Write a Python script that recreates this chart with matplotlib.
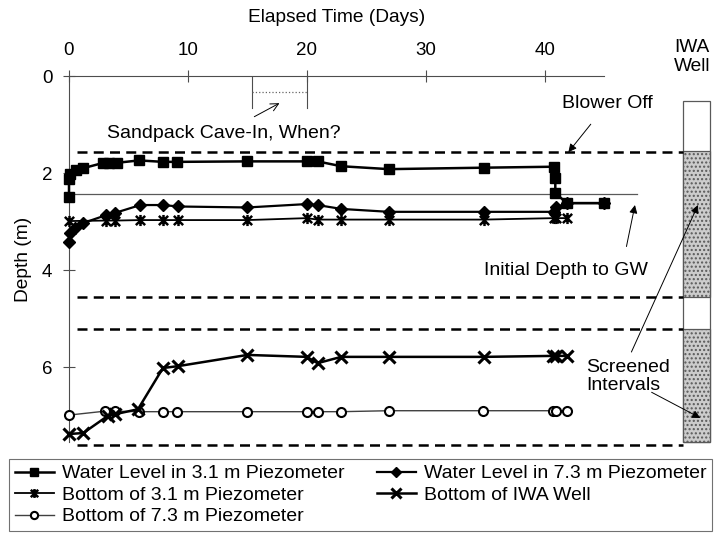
import numpy as np
import matplotlib.pyplot as plt
from matplotlib.path import Path
from matplotlib.patches import Rectangle

plt.rcParams['font.family'] = ['Liberation Sans', 'DejaVu Sans']

# water level in 3.1 m piezometer (squares)
sq_days = [0, 0, 0.1, 0.6, 1.2, 2.9, 3.4, 4.0, 5.9, 7.9, 9.1, 15, 20, 20.9, 22.9, 26.9, 34.9, 40.8, 40.9, 40.9, 41.9, 45]
sq_depth = [2.49, 2.12, 2.02, 1.93, 1.90, 1.79, 1.79, 1.79, 1.74, 1.77, 1.77, 1.76, 1.76, 1.76, 1.86, 1.92, 1.89, 1.87, 2.10, 2.42, 2.62, 2.62]

# water level in 7.3 m piezometer (diamonds)
dia_days = [0, 0.1, 0.5, 1.2, 3.1, 3.9, 6.0, 7.9, 9.2, 15, 20, 20.9, 22.9, 26.9, 34.9, 40.8, 41.0, 41.9, 45]
dia_depth = [3.42, 3.24, 3.13, 3.03, 2.87, 2.82, 2.66, 2.66, 2.69, 2.71, 2.64, 2.66, 2.74, 2.80, 2.80, 2.80, 2.70, 2.62, 2.62]

# bottom of 3.1 m piezometer (asterisks)
ast_days = [0, 3.1, 3.9, 6.0, 7.9, 9.2, 15, 20, 20.9, 22.9, 26.9, 34.9, 40.8, 41.0, 41.9]
ast_depth = [2.99, 2.98, 2.98, 2.97, 2.97, 2.97, 2.97, 2.93, 2.96, 2.96, 2.96, 2.96, 2.93, 2.93, 2.93]

# bottom of IWA well (x)
x_days = [0, 1.2, 3.3, 3.9, 5.8, 7.9, 9.2, 15, 20, 20.9, 22.9, 26.9, 34.9, 40.7, 41.0, 41.9]
x_depth = [7.38, 7.36, 7.00, 6.97, 6.87, 6.02, 5.98, 5.75, 5.79, 5.92, 5.79, 5.79, 5.79, 5.77, 5.77, 5.77]

# bottom of 7.3 m piezometer (circles)
o_days = [0, 3.0, 3.9, 5.9, 7.9, 9.1, 15, 20, 20.9, 22.9, 26.9, 34.8, 40.7, 41.0, 41.9]
o_depth = [6.99, 6.91, 6.91, 6.92, 6.92, 6.92, 6.92, 6.92, 6.92, 6.92, 6.90, 6.90, 6.90, 6.90, 6.90]

dashed_depths = [1.56, 4.56, 5.22, 7.60]
gw_depth = 2.43
screens = [(1.54, 4.56), (5.22, 7.55)]
well_top, well_bottom = 0.52, 7.55

fig = plt.figure(figsize=(7.15, 5.46), dpi=100)
ax = fig.add_axes([0.0965, 0.1767, 0.898, 0.6841])
ax.set_xlim(0, 54)
ax.set_ylim(7.7, 0)

# asterisk marker like excel (x with vertical bar)
ast = Path([(-1, -1), (1, 1), (-1, 1), (1, -1), (0, -1.2), (0, 1.2)],
           [Path.MOVETO, Path.LINETO, Path.MOVETO, Path.LINETO, Path.MOVETO, Path.LINETO])

# reference lines
for d in dashed_depths:
    ax.plot([0.7, 51.6], [d, d], color='black', lw=1.8, ls=(0, (4, 2.5)), clip_on=False)
ax.plot([0, 47.8], [gw_depth, gw_depth], color='0.35', lw=0.9)

# well column
ax.add_patch(Rectangle((51.6, well_top), 2.35, well_bottom - well_top, facecolor='white',
                       edgecolor='0.35', lw=0.9, clip_on=False))
for s0, s1 in screens:
    ax.add_patch(Rectangle((51.6, s0), 2.35, s1 - s0, facecolor='0.8', edgecolor='0.35',
                           lw=0.9, hatch='....', clip_on=False))

# sandpack bracket
ax.plot([15.4, 15.4], [0, 0.65], color='0.3', lw=0.8)
ax.plot([20, 20], [0, 0.65], color='0.3', lw=0.8)
ax.plot([15.4, 20], [0.33, 0.33], color='0.4', lw=0.9, ls=':')

h1, = ax.plot(sq_days, sq_depth, color='black', lw=1.8, marker='s', ms=7, clip_on=False, zorder=5,
              label='Water Level in 3.1 m Piezometer')
h2, = ax.plot(dia_days, dia_depth, color='black', lw=1.6, marker='D', ms=6.5, clip_on=False, zorder=5,
              label='Water Level in 7.3 m Piezometer')
h3, = ax.plot(ast_days, ast_depth, color='black', lw=1.3, marker=ast, ms=8, mew=1.8, clip_on=False,
              zorder=4, label='Bottom of 3.1 m Piezometer')
h4, = ax.plot(x_days, x_depth, color='black', lw=1.8, marker='x', ms=9, mew=2.2, clip_on=False,
              zorder=5, label='Bottom of IWA Well')
h5, = ax.plot(o_days, o_depth, color='0.25', lw=1.0, marker='o', ms=6.5, mfc='white', mec='black',
              mew=1.5, clip_on=False, zorder=4, label='Bottom of 7.3 m Piezometer')

# axes styling
for s in ['right', 'bottom']:
    ax.spines[s].set_visible(False)
ax.spines['top'].set_bounds(0, 45)
ax.spines['left'].set_bounds(0, 7.55)
for s in ['top', 'left']:
    ax.spines[s].set_color('0.3')
    ax.spines[s].set_linewidth(0.8)
ax.xaxis.tick_top()
ax.set_xticks([0, 10, 20, 30, 40])
ax.set_yticks([0, 2, 4, 6])
ax.tick_params(axis='x', direction='inout', length=8, width=0.8, color='0.3', labelsize=13.5, pad=8)
ax.tick_params(axis='y', direction='inout', length=8, width=0.8, color='0.3', labelsize=13.5, pad=8)

fig.text(337 / 715, 1 - 18 / 546, 'Elapsed Time (Days)', ha='center', va='center', fontsize=13.8)
fig.text(24 / 715, 1 - 259 / 546, 'Depth (m)', ha='center', va='center', rotation=90, fontsize=13.8)

# annotations
ax.text(50.9, -0.39, 'IWA\nWell', ha='left', va='center', fontsize=13.8, linespacing=1.1)
ax.annotate('Sandpack Cave-In, When?', xy=(17.7, 0.56), xytext=(13.0, 1.18), ha='center', va='center',
            fontsize=14, arrowprops=dict(arrowstyle='->', color='black', lw=0.7, shrinkA=8, shrinkB=0))
ax.annotate('Blower Off', xy=(42.0, 1.57), xytext=(45.3, 0.56), ha='center', va='center', fontsize=14,
            arrowprops=dict(arrowstyle='-|>', color='black', lw=0.7, shrinkA=9, shrinkB=0,
                            mutation_scale=12))
ax.annotate('Initial Depth to GW', xy=(47.6, 2.66), xytext=(41.8, 4.0), ha='center', va='center',
            fontsize=14, arrowprops=dict(arrowstyle='-|>', color='black', lw=0.7, shrinkA=9, shrinkB=0,
                                         mutation_scale=12, relpos=(0.85, 1.0)))
ax.text(43.5, 6.2, 'Screened\nIntervals', ha='left', va='center', fontsize=14, linespacing=1.05)
ax.annotate('', xy=(52.9, 2.66), xytext=(47.3, 5.69),
            arrowprops=dict(arrowstyle='-|>', color='black', lw=0.7, shrinkA=0, shrinkB=0,
                            mutation_scale=12), annotation_clip=False)
ax.annotate('', xy=(53.1, 7.05), xytext=(49.0, 6.52),
            arrowprops=dict(arrowstyle='-|>', color='black', lw=0.7, shrinkA=0, shrinkB=0,
                            mutation_scale=12), annotation_clip=False)

leg = fig.legend([h1, h3, h5, h2, h4], [h.get_label() for h in [h1, h3, h5, h2, h4]],
                 loc='upper left', bbox_to_anchor=(9 / 715, 1 - 541 / 546, 703 / 715, 82 / 546),
                 mode='expand', ncol=2, fontsize=14, frameon=True, fancybox=False,
                 handlelength=2.0, handletextpad=0.4, labelspacing=0.2, borderaxespad=0,
                 borderpad=0.3, markerscale=0.8)
leg.get_frame().set_edgecolor('0.3')
leg.get_frame().set_linewidth(0.8)

fig.savefig('out.png', dpi=100)
